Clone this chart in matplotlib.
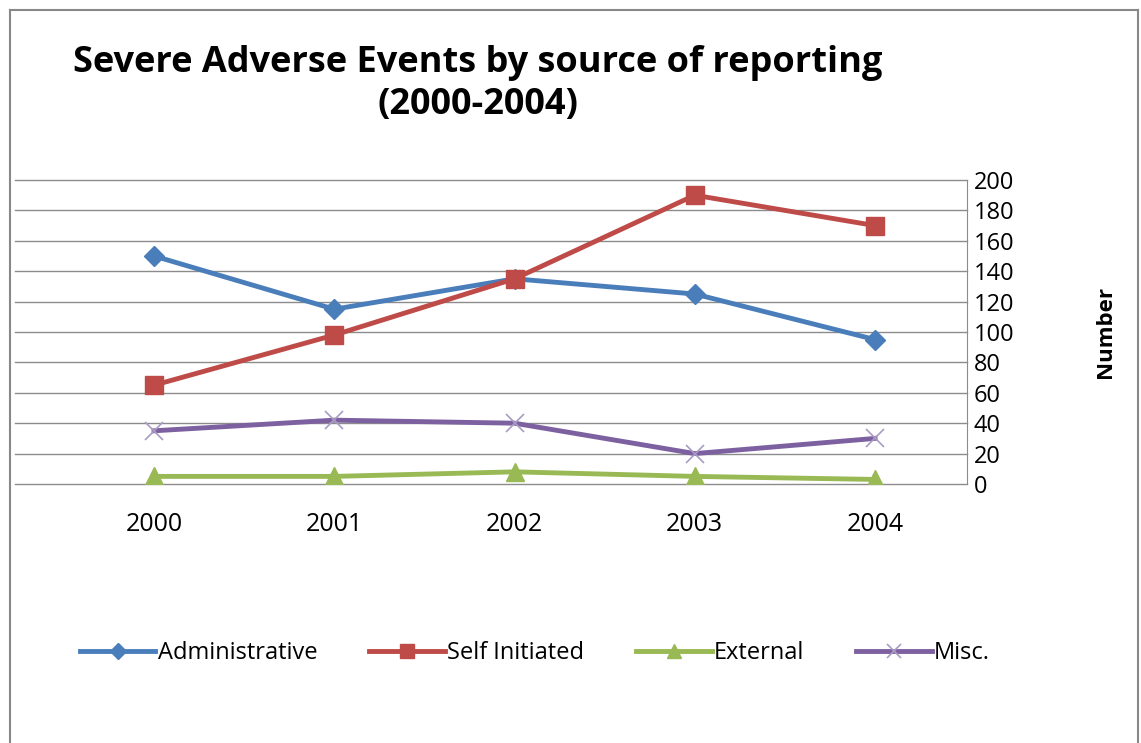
import numpy as np
import matplotlib
matplotlib.use("Agg")
import matplotlib.pyplot as plt
from matplotlib.lines import Line2D

years = ["2000", "2001", "2002", "2003", "2004"]
administrative = [150, 115, 135, 125, 95]
self_initiated = [65, 98, 135, 190, 170]
external = [5, 5, 8, 5, 3]
misc = [35, 42, 40, 20, 30]
yticks = [0, 20, 40, 60, 80, 100, 120, 140, 160, 180, 200]

plt.rcParams['font.family'] = ['Open Sans', 'DejaVu Sans']

W, H = 1141, 743
fig = plt.figure(figsize=(W / 100, H / 100), dpi=100)

# outer chart frame
fig.add_artist(Line2D([10 / W, 10 / W], [0, 1 - 10 / H], color="#888888", lw=1.5))
fig.add_artist(Line2D([10 / W, 1138 / W], [1 - 10 / H, 1 - 10 / H], color="#888888", lw=1.5))
fig.add_artist(Line2D([1138 / W, 1138 / W], [0, 1 - 10 / H], color="#888888", lw=1.5))

ax = fig.add_axes([15 / W, 1 - 484 / H, (967 - 15) / W, (484 - 180) / H])
x = np.arange(len(years))

ax.plot(x, administrative, color="#4A7EBB", lw=3.5, marker="D", ms=10, label="Administrative")
ax.plot(x, self_initiated, color="#BE4B48", lw=3.5, marker="s", ms=13, label="Self Initiated")
ax.plot(x, external, color="#98B954", lw=3.5, marker="^", ms=13, label="External")
ax.plot(x, misc, color="#7D60A0", lw=3.5, marker="x", ms=13, mew=1.2,
        markeredgecolor="#A99BC4", label="Misc.")

ax.set_ylim(0, 200)
ax.set_xlim(-0.771, 4.51)
ax.set_yticks(yticks)
ax.yaxis.tick_right()
ax.yaxis.set_label_position("right")
ax.tick_params(axis="y", length=0, labelsize=17, pad=5)
ax.tick_params(axis="x", length=0, labelsize=18, pad=20)
ax.set_xticks(x)
ax.set_xticklabels(years)
ax.grid(axis="y", color="#8C8C8C", lw=1)
for gl in ax.get_ygridlines():
    gl.set_clip_on(False)
ax.set_axisbelow(True)
for s in ["left", "top", "bottom"]:
    ax.spines[s].set_visible(False)
ax.spines["right"].set_color("#8C8C8C")
ax.set_ylabel("Number", fontsize=16, fontweight="bold", labelpad=58)

fig.text(478 / W, 1 - 84 / H, "Severe Adverse Events by source of reporting\n(2000-2004)",
         ha="center", va="center", fontsize=26, fontweight="bold", linespacing=1.25)

fig.legend(loc="center", bbox_to_anchor=(535 / W, 1 - 653 / H), ncol=4, frameon=False,
           fontsize=17, handlelength=3.2, handletextpad=0.1, columnspacing=2.2,
           markerscale=0.8)

fig.savefig("out.png", dpi=100)
